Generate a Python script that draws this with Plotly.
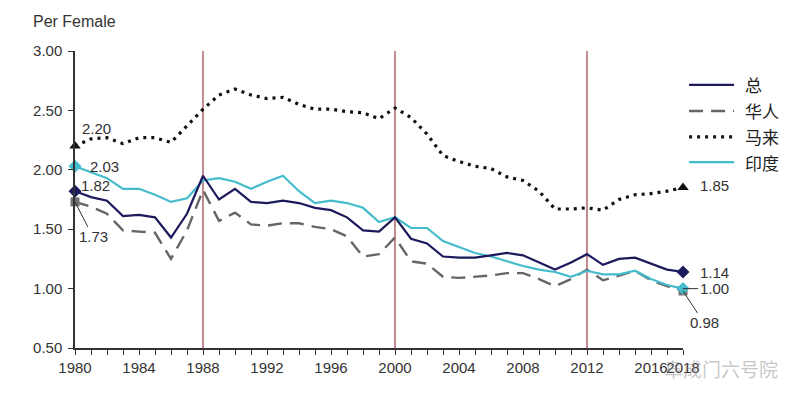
import plotly.graph_objects as go

years = list(range(1980, 2019))

total = [1.82, 1.77, 1.74, 1.61, 1.62, 1.60, 1.43, 1.63, 1.95, 1.75,
         1.84, 1.73, 1.72, 1.74, 1.72, 1.68, 1.66, 1.60, 1.49, 1.48,
         1.60, 1.42, 1.38, 1.27, 1.26, 1.26, 1.28, 1.30, 1.28, 1.22,
         1.16, 1.22, 1.29, 1.20, 1.25, 1.26, 1.21, 1.16, 1.14]

chinese = [1.73, 1.69, 1.63, 1.49, 1.48, 1.47, 1.25, 1.49, 1.83, 1.57,
           1.64, 1.54, 1.53, 1.55, 1.55, 1.52, 1.50, 1.44, 1.27, 1.29,
           1.43, 1.23, 1.21, 1.10, 1.09, 1.10, 1.11, 1.13, 1.13, 1.08,
           1.02, 1.08, 1.16, 1.07, 1.11, 1.15, 1.07, 1.02, 0.98]

malay = [2.20, 2.26, 2.27, 2.22, 2.27, 2.27, 2.23, 2.37, 2.51, 2.63,
         2.68, 2.63, 2.60, 2.61, 2.55, 2.51, 2.51, 2.49, 2.48, 2.43,
         2.52, 2.44, 2.30, 2.12, 2.07, 2.03, 2.01, 1.94, 1.91, 1.82,
         1.67, 1.67, 1.68, 1.66, 1.75, 1.79, 1.80, 1.82, 1.85]

indian = [2.03, 1.98, 1.93, 1.84, 1.84, 1.79, 1.73, 1.76, 1.91, 1.93,
          1.90, 1.84, 1.90, 1.95, 1.82, 1.72, 1.74, 1.72, 1.68, 1.56,
          1.60, 1.51, 1.51, 1.40, 1.35, 1.30, 1.27, 1.23, 1.19, 1.16,
          1.14, 1.10, 1.15, 1.12, 1.12, 1.15, 1.08, 1.03, 1.00]

names = ["总", "华人", "马来", "印度"]
x_tick_vals = [1980, 1984, 1988, 1992, 1996, 2000, 2004, 2008, 2012, 2016, 2018]
y_tick_vals = [0.5, 1.0, 1.5, 2.0, 2.5, 3.0]
ref_years = [1988, 2000, 2012]

NAVY = "#1c1a5c"
GRAY = "#666666"
BLACK = "#111111"
CYAN = "#45bccb"
TXT = "#333333"
FONT = "Liberation Sans, Arial, sans-serif"
CJK = "Noto Sans CJK SC, sans-serif"

styles = {
    "总": dict(color=NAVY, width=2.2, dash="solid"),
    "华人": dict(color=GRAY, width=2.4, dash="14px,8px"),
    "马来": dict(color=BLACK, width=3.2, dash="3px,5px"),
    "印度": dict(color=CYAN, width=2.2, dash="solid"),
}
markers = {
    "总": dict(symbol="diamond", color=NAVY, size=10),
    "华人": dict(symbol="square", color="#707070", size=9),
    "马来": dict(symbol="triangle-up", color=BLACK, size=10),
    "印度": dict(symbol="diamond", color=CYAN, size=10),
}
series = {"总": total, "华人": chinese, "马来": malay, "印度": indian}

fig = go.Figure()
for nm in ["华人", "马来", "印度", "总"]:
    vals = series[nm]
    fig.add_trace(go.Scatter(x=years, y=vals, mode="lines", line=styles[nm],
                             showlegend=False, cliponaxis=False, hoverinfo="skip"))
    fig.add_trace(go.Scatter(x=[years[0], years[-1]], y=[vals[0], vals[-1]], mode="markers",
                             marker=markers[nm], showlegend=False, cliponaxis=False,
                             hoverinfo="skip"))

shapes = []
for yr in ref_years:
    shapes.append(dict(type="line", xref="x", yref="y", x0=yr, x1=yr, y0=0.5, y1=3.0,
                       line=dict(color="#b4646a", width=1.5), layer="below"))

# custom legend
leg_rows = [0.886, 0.798, 0.711, 0.626]
for nm, yy in zip(names, leg_rows):
    st = styles[nm]
    shapes.append(dict(type="line", xref="paper", yref="paper", x0=1.010, x1=1.084,
                       y0=yy, y1=yy, line=dict(color=st["color"], width=st["width"],
                                               dash=st["dash"])))

annotations = [
    dict(text="Per Female", xref="paper", yref="paper", x=-0.072, y=1.098,
         xanchor="left", yanchor="middle", showarrow=False,
         font=dict(family=FONT, size=16, color=TXT)),
    dict(text="阜成门六号院", xref="paper", yref="paper", x=1.062, y=-0.07,
         xanchor="center", yanchor="middle", showarrow=False,
         font=dict(family=CJK, size=19, color="rgba(130,130,130,0.45)")),
]
for nm, yy in zip(names, leg_rows):
    annotations.append(dict(text=nm, xref="paper", yref="paper", x=1.098, y=yy,
                            xanchor="left", yanchor="middle", showarrow=False,
                            font=dict(family=CJK, size=17, color="#222222")))

lab_font = dict(family=FONT, size=15, color=TXT)
# start labels
annotations += [
    dict(x=years[0], y=malay[0], text=f"{malay[0]:.2f}", showarrow=False,
         xshift=21, yshift=18, font=lab_font),
    dict(x=years[0], y=indian[0], text=f"{indian[0]:.2f}", showarrow=False,
         xshift=29, yshift=0, font=lab_font),
    dict(x=years[0], y=total[0], text=f"{total[0]:.2f}", showarrow=False,
         xshift=20, yshift=6, font=lab_font),
    dict(x=years[0], y=chinese[0], text=f"{chinese[0]:.2f}", showarrow=True,
         arrowhead=0, arrowwidth=1, arrowcolor=TXT, ax=18, ay=35, standoff=0,
         font=lab_font),
]
# end labels
annotations += [
    dict(x=years[-1], y=malay[-1], text=f"{malay[-1]:.2f}", showarrow=False,
         xshift=31, yshift=2, font=lab_font),
    dict(x=years[-1], y=total[-1], text=f"{total[-1]:.2f}", showarrow=False,
         xshift=31, yshift=-1, font=lab_font),
    dict(x=years[-1], y=indian[-1], text=f"{indian[-1]:.2f}", showarrow=True,
         arrowhead=0, arrowwidth=1, arrowcolor=TXT, ax=31, ay=0, standoff=0,
         font=lab_font),
    dict(x=years[-1], y=chinese[-1], text=f"{chinese[-1]:.2f}", showarrow=True,
         arrowhead=0, arrowwidth=1, arrowcolor=TXT, ax=21, ay=32, standoff=0,
         font=lab_font),
]

fig.update_layout(
    width=800, height=395,
    margin=dict(l=75, r=117, t=51, b=47),
    paper_bgcolor="white", plot_bgcolor="white",
    shapes=shapes, annotations=annotations,
    showlegend=False,
    xaxis=dict(range=[1980, 2018], tickvals=x_tick_vals, ticktext=[str(v) for v in x_tick_vals],
               tickangle=0, showgrid=False, zeroline=False, showline=True,
               linecolor="#333333", linewidth=1.5, ticks="outside", ticklen=5,
               tickcolor="#333333", tickfont=dict(family=FONT, size=15, color=TXT),
               minor=dict(dtick=1, tick0=1980, ticks="outside", ticklen=5,
                          tickcolor="#333333", showgrid=False)),
    yaxis=dict(range=[0.5, 3.0], tickvals=y_tick_vals, tickformat=".2f",
               showgrid=False, zeroline=False, showline=True,
               linecolor="#333333", linewidth=1.5, ticks="outside", ticklen=5,
               tickcolor="#333333", ticklabelstandoff=3,
               tickfont=dict(family=FONT, size=15, color=TXT)),
)

fig.write_html("out.html", config={"displayModeBar": False},
               post_script="document.body.style.margin='0px';document.body.style.overflow='hidden';")
